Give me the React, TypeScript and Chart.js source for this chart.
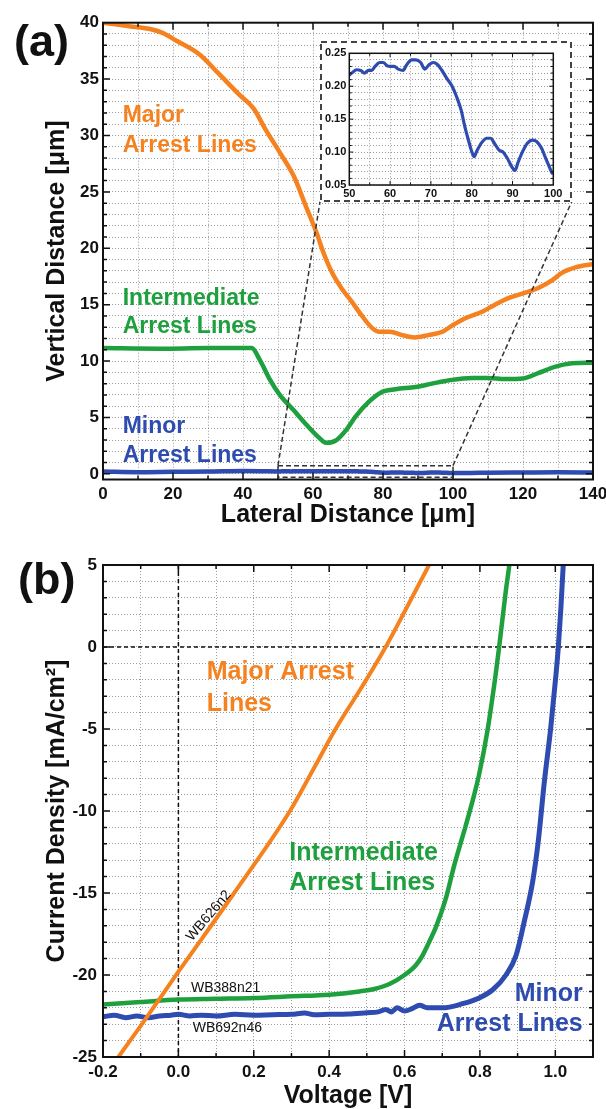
import React, { useEffect, useRef } from "react";
import { Chart, registerables } from "chart.js";
Chart.register(...registerables);

const FONT = "'Liberation Sans', Arial, Helvetica, sans-serif";
const ORANGE = "#F5821F";
const GREEN = "#1FA03E";
const BLUE = "#2E4BB0";
const GRID = "rgba(90,90,90,0.6)";
const INK = "#111111";

// ---------- Panel (a): arrest-line profiles ----------
const majorLatX = [0, 7, 14, 17, 21, 27.5, 33, 39, 43, 46.5, 50.5, 54.5, 58, 61, 63, 65.5, 68.5, 71, 74, 77, 79, 82, 85.5, 89, 93, 97, 100, 103.5, 108.5, 112, 116, 120, 124.5, 128.5, 131, 135, 140];
const majorLatY = [40.0, 39.7, 39.4, 39.1, 38.4, 37.2, 35.5, 33.6, 32.4, 30.5, 28.5, 26.4, 23.7, 21.4, 19.6, 17.8, 16.3, 15.3, 14.0, 12.9, 12.6, 12.6, 12.3, 12.1, 12.3, 12.6, 13.2, 13.8, 14.4, 15.0, 15.6, 16.0, 16.5, 17.2, 17.8, 18.3, 18.6];

const interLatX = [0, 16, 30, 42.5, 44.8, 47.6, 50.5, 54.3, 58, 61.4, 63.8, 66.7, 69.5, 72.2, 76, 79.3, 83.6, 89.3, 94, 99, 105.5, 110, 115, 120, 124.5, 129.3, 134, 140];
const interLatY = [11.15, 11.1, 11.15, 11.15, 10.1, 8.4, 7.0, 5.7, 4.4, 3.3, 2.75, 3.0, 3.9, 5.1, 6.4, 7.2, 7.5, 7.7, 8.0, 8.3, 8.5, 8.5, 8.4, 8.45, 8.95, 9.5, 9.8, 9.85];

const minorLatX = [0, 10, 20, 30, 40, 45, 50, 50.6, 51.8, 52.8, 53.7, 54.7, 55.5, 56.3, 57.5, 58.3, 59.3, 60.1, 61, 62, 63.2, 64, 65.3, 66.3, 67.5, 68.5, 69.6, 70.6, 71.6, 72.6, 73.9, 75.1, 76.3, 77.4, 78.3, 79.2, 80, 80.6, 81.2, 82.4, 83.7, 84.6, 85.7, 86.7, 87.7, 88.7, 89.8, 90.6, 91.4, 92.5, 93.6, 94.9, 95.9, 97.1, 98.3, 99.7, 105, 110, 120, 130, 140];
const minorLatY = [0.2, 0.15, 0.18, 0.2, 0.25, 0.24, 0.217, 0.22, 0.225, 0.224, 0.22, 0.224, 0.224, 0.23, 0.236, 0.236, 0.231, 0.23, 0.23, 0.226, 0.224, 0.232, 0.24, 0.24, 0.236, 0.226, 0.233, 0.236, 0.233, 0.225, 0.212, 0.201, 0.184, 0.164, 0.139, 0.118, 0.101, 0.093, 0.101, 0.114, 0.121, 0.121, 0.112, 0.103, 0.1, 0.091, 0.078, 0.072, 0.085, 0.101, 0.113, 0.118, 0.116, 0.106, 0.088, 0.068, 0.08, 0.1, 0.12, 0.14, 0.12];

const insetRange = [50, 100];

// ---------- Panel (b): J-V curves ----------
const majorVX = [-0.2, -0.1, 0, 0.148, 0.296, 0.357, 0.417, 0.485, 0.55, 0.608, 0.665, 0.7];
const majorJY = [-26.3, -23.1, -19.8, -15.0, -10.0, -7.5, -5.0, -2.5, 0, 2.5, 5.0, 6.5];

const interVX = [-0.2, -0.1, 0, 0.1, 0.2, 0.3, 0.4, 0.48, 0.52, 0.56, 0.6, 0.63, 0.648, 0.665, 0.683, 0.71, 0.732, 0.756, 0.778, 0.798, 0.82, 0.842, 0.851, 0.869, 0.878, 0.885];
const interJY = [-21.8, -21.65, -21.5, -21.45, -21.4, -21.3, -21.2, -21.0, -20.85, -20.55, -20.0, -19.4, -18.8, -18.0, -17.1, -15.3, -13.3, -11.4, -9.6, -7.75, -5.1, -1.63, 0, 3.47, 5.0, 6.5];

const minorVX = [-0.2, -0.17, -0.14, -0.11, -0.08, -0.05, -0.02, 0, 0.03, 0.06, 0.1, 0.15, 0.2, 0.25, 0.3, 0.335, 0.36, 0.4, 0.45, 0.5, 0.53, 0.55, 0.565, 0.58, 0.6, 0.62, 0.64, 0.66, 0.7, 0.754, 0.798, 0.834, 0.869, 0.896, 0.918, 0.94, 0.955, 0.971, 0.988, 1.002, 1.008, 1.015, 1.021, 1.025];
const minorJY = [-22.55, -22.45, -22.6, -22.5, -22.6, -22.5, -22.45, -22.4, -22.5, -22.45, -22.5, -22.4, -22.45, -22.42, -22.4, -22.32, -22.42, -22.4, -22.38, -22.3, -22.25, -22.1, -22.25, -22.0, -22.2, -22.05, -21.85, -22.0, -22.0, -21.75, -21.4, -20.9, -20.0, -18.8, -16.7, -14.3, -11.8, -8.2, -4.9, -1.63, 0, 2.45, 5.0, 6.5];

// ---------- Tick positions ----------
const range = (min: number, max: number, step: number) => {
  const out: number[] = [];
  const n = Math.round((max - min) / step);
  for (let i = 0; i <= n; i++) out.push(+(min + i * step).toFixed(6));
  return out;
};
const aXTicks = range(0, 140, 10);
const aYTicks = range(0, 40, 1);
const insXTicks = range(50, 100, 5);
const insYTicks = range(0.05, 0.25, 0.01);
const bXTicks = range(-0.2, 1.1, 0.1);
const bYTicks = range(-25, 5, 1);

const isMult = (v: number, m: number) => Math.abs(v / m - Math.round(v / m)) < 1e-6;
const pts = (xs: number[], ys: number[]) => xs.map((x, i) => ({ x, y: ys[i] }));

// ---------- Plugins ----------
const frameTicks = {
  id: "frameTicks",
  afterDatasetsDraw(chart: any, _a: any, o: any) {
    const { ctx, chartArea } = chart;
    const { left, right, top, bottom } = chartArea;
    const xs = chart.scales.x, ys = chart.scales.y;
    ctx.save();
    ctx.strokeStyle = INK;
    ctx.lineWidth = o.tickWidth;
    ctx.beginPath();
    for (const t of xs.ticks) {
      const p = xs.getPixelForValue(t.value);
      if (p <= left + 0.5 || p >= right - 0.5) continue;
      const L = isMult(t.value, o.xMajor) ? o.majorLen : o.minorLen;
      ctx.moveTo(p, bottom); ctx.lineTo(p, bottom - L);
      ctx.moveTo(p, top); ctx.lineTo(p, top + L);
    }
    for (const t of ys.ticks) {
      const p = ys.getPixelForValue(t.value);
      if (p <= top + 0.5 || p >= bottom - 0.5) continue;
      const L = isMult(t.value, o.yMajor) ? o.majorLen : o.minorLen;
      ctx.moveTo(left, p); ctx.lineTo(left + L, p);
      ctx.moveTo(right, p); ctx.lineTo(right - L, p);
    }
    ctx.stroke();
    ctx.lineWidth = o.frameWidth;
    ctx.strokeRect(left, top, right - left, bottom - top);
    ctx.restore();
  },
};

const textNotes = {
  id: "textNotes",
  afterDraw(chart: any, _a: any, o: any) {
    const ctx = chart.ctx;
    for (const n of o.items || []) {
      ctx.save();
      ctx.font = n.font;
      ctx.fillStyle = n.color;
      ctx.textAlign = n.align || "left";
      ctx.textBaseline = n.baseline || "alphabetic";
      ctx.translate(n.x, n.y);
      if (n.rot) ctx.rotate((n.rot * Math.PI) / 180);
      ctx.fillText(n.text, 0, 0);
      ctx.restore();
    }
  },
};

const zoomBox = {
  id: "zoomBox",
  afterDatasetsDraw(chart: any, _a: any, o: any) {
    if (!o || !o.enabled) return;
    const { ctx } = chart;
    const xs = chart.scales.x, ys = chart.scales.y;
    const x1 = xs.getPixelForValue(o.x0), x2 = xs.getPixelForValue(o.x1);
    const yT = ys.getPixelForValue(o.yTop), yB = ys.getPixelForValue(o.yBot);
    ctx.save();
    ctx.strokeStyle = "#333";
    ctx.lineWidth = 1.5;
    ctx.setLineDash([5, 3]);
    ctx.strokeRect(x1, yT, x2 - x1, yB - yT);
    ctx.beginPath();
    ctx.moveTo(x1, yT); ctx.lineTo(o.boxL, o.boxB);
    ctx.moveTo(x2, yT); ctx.lineTo(o.boxR, o.boxB);
    ctx.stroke();
    ctx.restore();
  },
};

const zeroLines = {
  id: "zeroLines",
  beforeDatasetsDraw(chart: any, _a: any, o: any) {
    if (!o || !o.enabled) return;
    const { ctx, chartArea } = chart;
    const xs = chart.scales.x, ys = chart.scales.y;
    const px = xs.getPixelForValue(0), py = ys.getPixelForValue(0);
    ctx.save();
    ctx.strokeStyle = INK;
    ctx.lineWidth = 1.5;
    ctx.setLineDash([4, 3]);
    ctx.beginPath();
    ctx.moveTo(px, chartArea.top); ctx.lineTo(px, chartArea.bottom);
    ctx.moveTo(chartArea.left, py); ctx.lineTo(chartArea.right, py);
    ctx.stroke();
    ctx.restore();
  },
};

const insetFrame = {
  id: "insetFrame",
  beforeDraw(chart: any, _a: any, o: any) {
    if (!o || !o.enabled) return;
    const { ctx, width, height } = chart;
    ctx.save();
    ctx.fillStyle = "#fff";
    ctx.fillRect(0, 0, width, height);
    ctx.strokeStyle = "#444";
    ctx.lineWidth = 2;
    ctx.setLineDash([6, 4]);
    ctx.strokeRect(1, 1, width - 2, height - 2);
    ctx.restore();
  },
};

const bold = (s: number) => `bold ${s}px ${FONT}`;
const reg = (s: number) => `${s}px ${FONT}`;

function lineDs(data: any[], color: string, width: number) {
  return {
    data,
    borderColor: color,
    backgroundColor: color,
    borderWidth: width,
    pointRadius: 0,
    cubicInterpolationMode: "monotone",
    borderCapStyle: "round",
    borderJoinStyle: "round",
    clip: 0,
    fill: false,
  };
}

function axis(opts: any) {
  const { min, max, tickVals, label, fixed, horizontal, fontSize, padding, title } = opts;
  return {
    type: "linear",
    min,
    max,
    afterBuildTicks: (s: any) => {
      s.ticks = tickVals.map((v: number) => ({ value: v }));
    },
    afterFit: (s: any) => {
      if (horizontal) {
        s.height = fixed;
        s.paddingLeft = 0;
        s.paddingRight = 0;
      } else {
        s.width = fixed;
        s.paddingTop = 0;
        s.paddingBottom = 0;
      }
    },
    ticks: {
      callback: (v: any) => label(Number(v)),
      font: { family: FONT, size: fontSize, weight: "bold" },
      color: INK,
      padding,
      autoSkip: false,
      maxRotation: 0,
      minRotation: 0,
    },
    grid: { color: GRID, lineWidth: 1, drawTicks: false },
    border: { display: false, dash: [1, 2] },
    title: title || { display: false },
  };
}

function configA(): any {
  return {
    type: "line",
    data: {
      datasets: [
        lineDs(pts(majorLatX, majorLatY), ORANGE, 4.5),
        lineDs(pts(interLatX, interLatY), GREEN, 4.5),
        lineDs(pts(minorLatX, minorLatY), BLUE, 4.5),
      ],
    },
    options: {
      responsive: false,
      animation: false,
      layout: { padding: { left: 0, right: 13, top: 22.7, bottom: 0 } },
      plugins: {
        legend: { display: false },
        tooltip: { enabled: false },
        frameTicks: { xMajor: 20, yMajor: 5, majorLen: 7, minorLen: 4, tickWidth: 1.5, frameWidth: 2 },
        zoomBox: { enabled: true, x0: insetRange[0], x1: insetRange[1], yTop: 0.73, yBot: -0.3, boxL: 320, boxR: 571.7, boxB: 201.7 },
        textNotes: {
          items: [
            { text: "(a)", x: 14, y: 55.5, font: bold(45), color: INK },
            { text: "Major", x: 122.7, y: 122, font: bold(23), color: ORANGE },
            { text: "Arrest Lines", x: 122.7, y: 151.5, font: bold(23), color: ORANGE },
            { text: "Intermediate", x: 122.7, y: 305, font: bold(23), color: GREEN },
            { text: "Arrest Lines", x: 122.7, y: 333.2, font: bold(23), color: GREEN },
            { text: "Minor", x: 122.7, y: 433.2, font: bold(23), color: BLUE },
            { text: "Arrest Lines", x: 122.7, y: 461.5, font: bold(23), color: BLUE },
          ],
        },
      },
      scales: {
        x: axis({
          min: 0, max: 140, tickVals: aXTicks, horizontal: true, fixed: 60.5, fontSize: 17, padding: 5,
          label: (v: number) => (isMult(v, 20) ? String(v) : ""),
          title: { display: true, text: "Lateral Distance [μm]", color: INK, font: { family: FONT, size: 25, weight: "bold", lineHeight: 1.2 }, padding: { top: 0, bottom: 10 } },
        }),
        y: axis({
          min: -0.5, max: 40, tickVals: aYTicks, horizontal: false, fixed: 103, fontSize: 17, padding: 4,
          label: (v: number) => (isMult(v, 5) ? String(v) : ""),
          title: { display: true, text: "Vertical Distance [μm]", color: INK, font: { family: FONT, size: 25, weight: "bold", lineHeight: 1.2 }, padding: { top: 42, bottom: 0 } },
        }),
      },
    },
    plugins: [frameTicks, zoomBox, textNotes],
  };
}

function configInset(): any {
  const xs: number[] = [], ys: number[] = [];
  minorLatX.forEach((x, i) => {
    if (x >= insetRange[0] && x <= insetRange[1]) {
      xs.push(x);
      ys.push(minorLatY[i]);
    }
  });
  return {
    type: "line",
    data: { datasets: [lineDs(pts(xs, ys), BLUE, 3.2)] },
    options: {
      responsive: false,
      animation: false,
      layout: { padding: { left: 0, right: 18.7, top: 12.3, bottom: 0 } },
      plugins: {
        legend: { display: false },
        tooltip: { enabled: false },
        insetFrame: { enabled: true },
        frameTicks: { xMajor: 10, yMajor: 0.05, majorLen: 4, minorLen: 2.5, tickWidth: 1, frameWidth: 1.5 },
      },
      scales: {
        x: axis({
          min: 50, max: 100, tickVals: insXTicks, horizontal: true, fixed: 17, fontSize: 11, padding: 2,
          label: (v: number) => (isMult(v, 10) ? String(v) : ""),
        }),
        y: axis({
          min: 0.05, max: 0.25, tickVals: insYTicks, horizontal: false, fixed: 29.3, fontSize: 11, padding: 3,
          label: (v: number) => (isMult(v, 0.05) ? v.toFixed(2) : ""),
        }),
      },
    },
    plugins: [insetFrame, frameTicks],
  };
}

function configB(): any {
  return {
    type: "line",
    data: {
      datasets: [
        lineDs(pts(majorVX, majorJY), ORANGE, 4),
        lineDs(pts(interVX, interJY), GREEN, 4.5),
        lineDs(pts(minorVX, minorJY), BLUE, 5),
      ],
    },
    options: {
      responsive: false,
      animation: false,
      layout: { padding: { left: 0, right: 13, top: 25, bottom: 0 } },
      plugins: {
        legend: { display: false },
        tooltip: { enabled: false },
        zeroLines: { enabled: true },
        frameTicks: { xMajor: 0.2, yMajor: 5, majorLen: 7, minorLen: 4, tickWidth: 1.5, frameWidth: 2 },
        textNotes: {
          items: [
            { text: "(b)", x: 18, y: 53.5, font: bold(45), color: INK },
            { text: "Major Arrest", x: 206.7, y: 139, font: bold(25), color: ORANGE },
            { text: "Lines", x: 206.7, y: 170.6, font: bold(25), color: ORANGE },
            { text: "Intermediate", x: 289.3, y: 319.8, font: bold(25), color: GREEN },
            { text: "Arrest Lines", x: 289.3, y: 349.8, font: bold(25), color: GREEN },
            { text: "Minor", x: 582.7, y: 460.6, font: bold(25), color: BLUE, align: "right" },
            { text: "Arrest Lines", x: 582.7, y: 491, font: bold(25), color: BLUE, align: "right" },
            { text: "WB626n2", x: 208.8, y: 375.8, font: reg(14), color: INK, align: "center", baseline: "middle", rot: -50 },
            { text: "WB388n21", x: 191, y: 452.2, font: reg(14), color: INK },
            { text: "WB692n46", x: 192.7, y: 492.2, font: reg(14), color: INK },
          ],
        },
      },
      scales: {
        x: axis({
          min: -0.2, max: 1.1, tickVals: bXTicks, horizontal: true, fixed: 52, fontSize: 17, padding: 5,
          label: (v: number) => {
            const k = Math.round(v * 10);
            return k % 2 === 0 && k <= 10 ? v.toFixed(1) : "";
          },
          title: { display: true, text: "Voltage [V]", color: INK, font: { family: FONT, size: 25, weight: "bold", lineHeight: 1 }, padding: { top: 0, bottom: 0 } },
        }),
        y: axis({
          min: -25, max: 5, tickVals: bYTicks, horizontal: false, fixed: 103, fontSize: 17, padding: 6,
          label: (v: number) => (isMult(v, 5) ? String(v) : ""),
          title: { display: true, text: "Current Density [mA/cm²]", color: INK, font: { family: FONT, size: 25, weight: "bold", lineHeight: 1.2 }, padding: { top: 42, bottom: 0 } },
        }),
      },
    },
    plugins: [zeroLines, frameTicks, textNotes],
  };
}

export default function App() {
  const aRef = useRef<HTMLCanvasElement>(null);
  const insRef = useRef<HTMLCanvasElement>(null);
  const bRef = useRef<HTMLCanvasElement>(null);

  useEffect(() => {
    const charts = [
      new Chart(aRef.current as HTMLCanvasElement, configA()),
      new Chart(insRef.current as HTMLCanvasElement, configInset()),
      new Chart(bRef.current as HTMLCanvasElement, configB()),
    ];
    return () => charts.forEach((c) => c.destroy());
  }, []);

  return (
    <div style={{ position: "absolute", left: 0, top: 0, width: 606, height: 1109, background: "#fff", overflow: "hidden" }}>
      <canvas ref={aRef} width={606} height={540} style={{ position: "absolute", left: 0, top: 0 }} />
      <canvas ref={insRef} width={252} height={161} style={{ position: "absolute", left: 320, top: 41 }} />
      <canvas ref={bRef} width={606} height={569} style={{ position: "absolute", left: 0, top: 540 }} />
    </div>
  );
}
